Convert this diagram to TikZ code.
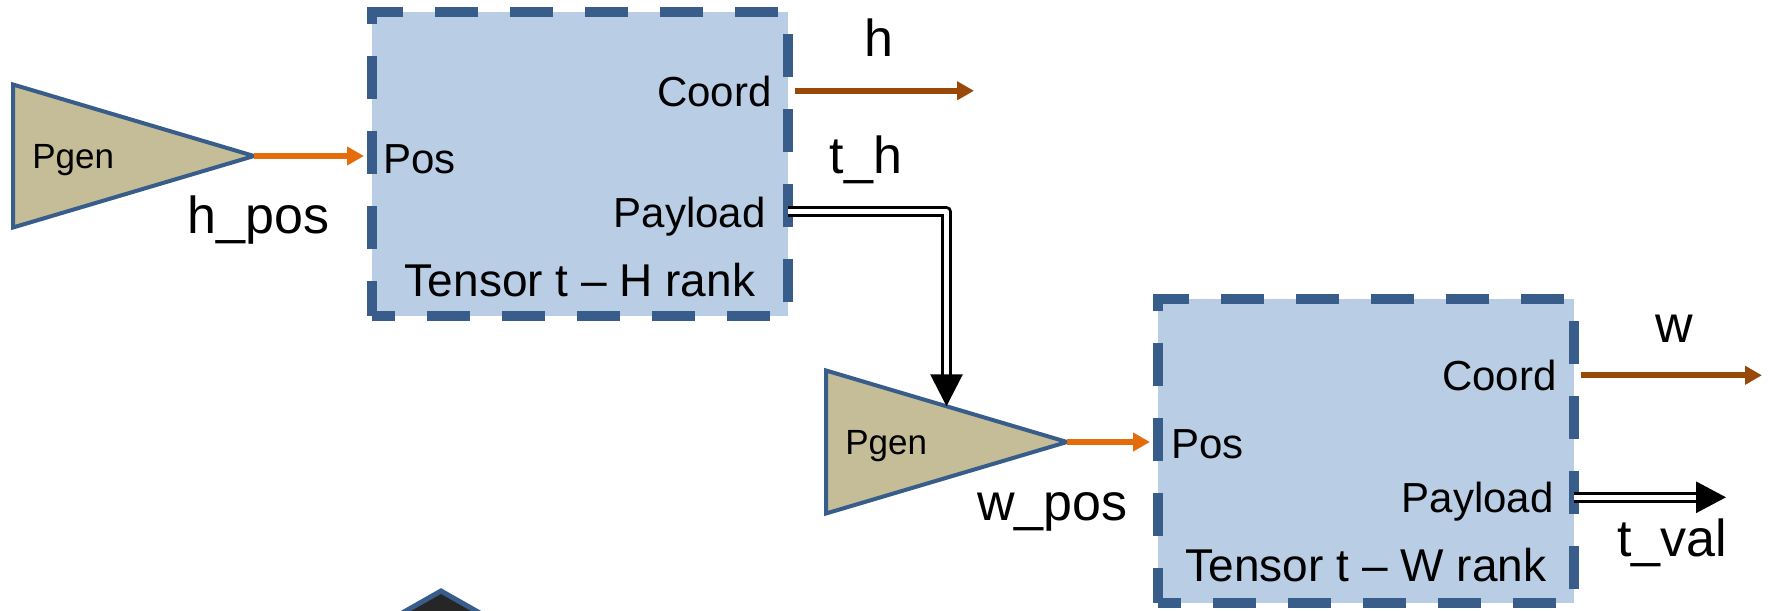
\documentclass[tikz,border=0pt]{standalone}
\usepackage{fontspec}
\setmainfont{Liberation Sans}
\usetikzlibrary{shapes.geometric, arrows.meta, positioning}
\definecolor{BoxFill}{HTML}{B9CDE5}
\definecolor{BoxLine}{HTML}{385D8A}
\definecolor{GenFill}{HTML}{C4BD97}
\definecolor{PosOrange}{HTML}{E46C0A}
\definecolor{CoordBrown}{HTML}{984807}
\definecolor{DarkFill}{HTML}{262626}

\begin{document}
\begin{tikzpicture}[
    x=0.5pt, y=-0.5pt,
    tensor/.style={rectangle, draw=BoxLine, fill=BoxFill, line width=5pt, dash pattern=on 21.5pt off 16pt, dash phase=10pt, minimum width=208pt, minimum height=152pt, inner sep=0pt, outer sep=0pt},
    pgen/.style={isosceles triangle, isosceles triangle stretches, draw=BoxLine, fill=GenFill, line width=2pt, minimum width=71.5pt, minimum height=120.5pt, inner sep=0pt, outer sep=0pt},
    gentext/.style={font=\fontsize{17.5pt}{21pt}\selectfont, inner sep=0pt, text depth=0pt},
    port/.style={font=\fontsize{21pt}{25pt}\selectfont, inner sep=0pt, text depth=0pt},
    title/.style={font=\fontsize{23pt}{27pt}\selectfont, inner sep=0pt},
    sig/.style={font=\fontsize{26pt}{31pt}\selectfont, inner sep=0pt},
    posarrow/.style={-{Triangle[length=8.5pt, width=9pt]}, line width=3pt, color=PosOrange},
    coordarrow/.style={-{Triangle[length=8.5pt, width=9pt]}, line width=3pt, color=CoordBrown},
    dblarrow/.style={-{Triangle[length=16pt, width=16pt]}, double, double distance=2.5pt, line width=1.5pt, line join=round}
]
\useasboundingbox (0,0) rectangle (1771,610);

% tensors
\node[tensor] (th) at (580,164) {};
\node[tensor] (tw) at (1366,450.5) {};

% position generators
\node[pgen, anchor=apex] (gh) at (254,156) {};
\node[pgen, anchor=apex] (gw) at (1067,442) {};
\node[gentext, right=9.5pt of gh.west] (ghl) {Pgen};
\node[gentext, right=9.5pt of gw.west] (gwl) {Pgen};

% ports of the H rank
\node[port, below right=80.5pt and 5.5pt of th.north west, anchor=base west] (ph) {Pos};
\node[port, below left=47pt and 8pt of th.north east, anchor=base east] (ch) {Coord};
\node[port, below left=107.5pt and 11pt of th.north east, anchor=base east] (yh) {Payload};
\node[title, above=10pt of th.south, anchor=base] (nh) {Tensor t -- H rank};

% ports of the W rank
\node[port, below right=80pt and 6.5pt of tw.north west, anchor=base west] (pw) {Pos};
\node[port, below left=46pt and 8.5pt of tw.north east, anchor=base east] (cw) {Coord};
\node[port, below left=107pt and 10pt of tw.north east, anchor=base east] (yw) {Payload};
\node[title, above=10.5pt of tw.south, anchor=base] (nw) {Tensor t -- W rank};

% signal names
\node[sig, anchor=base] (hsig) at (879,57) {h};
\node[sig, anchor=base] (thsig) at (866,173) {t\_h};
\node[sig, anchor=base west] (hpos) at (187,233) {h\_pos};
\node[sig, anchor=base west] (wpos) at (977,520) {w\_pos};
\node[sig, anchor=base] (wsig) at (1674,342) {w};
\node[sig, anchor=base west] (tval) at (1617,556) {t\_val};

\coordinate (hend) at (974,93);
\coordinate (wend) at (1762,380);
\coordinate (tvend) at (1726,497);

% connections
\draw[posarrow, shorten >=4pt] (gh.apex) -- (th.west |- gh.apex);
\draw[posarrow, shorten >=4pt] (gw.apex) -- (tw.west |- gw.apex);
\draw[coordarrow, shorten <=3.5pt] (th.east |- ch.east) -- (hend |- ch.east);
\draw[coordarrow, shorten <=3.5pt] (tw.east |- cw.east) -- (wend |- cw.east);
\draw[dblarrow] (th.east |- yh.east) -| (gw.left side);
\draw[dblarrow, -{Triangle[length=15pt, width=15.5pt]}] (tw.east |- yw.east) -- (tvend |- yw.east);

% cut-off shape at the bottom
\begin{scope}
\clip (0,0) rectangle (1771,610);
\node[diamond, aspect=1.76, draw=BoxLine, fill=DarkFill, line width=2.5pt, minimum width=88pt, minimum height=50pt, inner sep=0pt, outer sep=0pt] (dec) at (441,641) {};
\end{scope}
\end{tikzpicture}
\end{document}
